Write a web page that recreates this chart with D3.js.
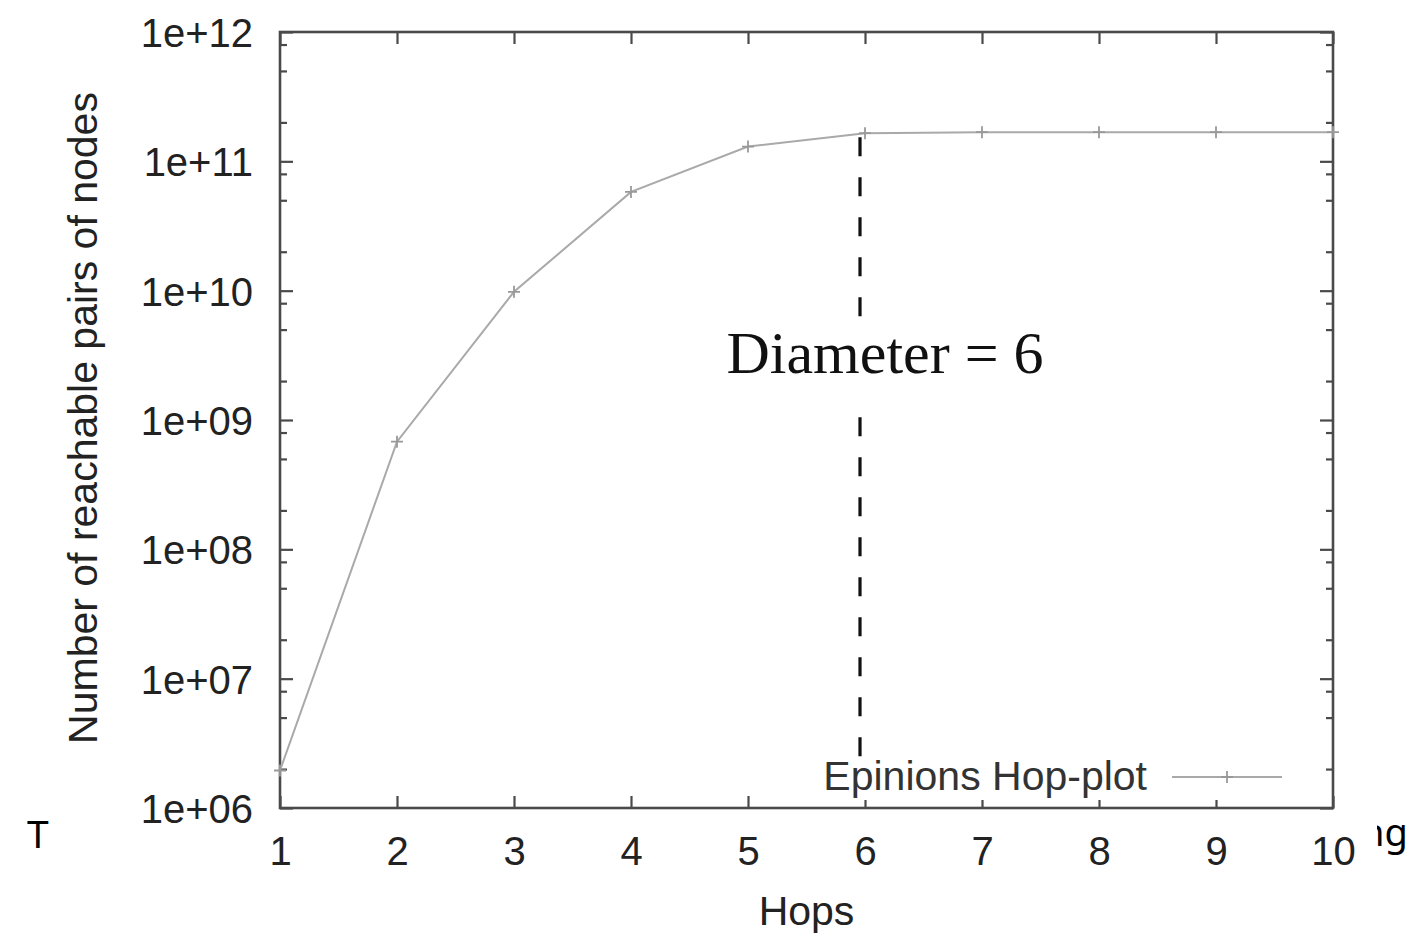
<!DOCTYPE html>
<html>
<head>
<meta charset="utf-8">
<script src="https://cdn.jsdelivr.net/npm/d3@7"></script>
<style>
  html, body { margin: 0; padding: 0; background: #fff; }
  svg { display: block; }
</style>
</head>
<body>
<svg id="chart" width="1411" height="935"></svg>
<script>
// ---- data ----
const hops = [1, 2, 3, 4, 5, 6, 7, 8, 9, 10];
const reachablePairs = [1.95e6, 6.8e8, 9.8e9, 5.8e10, 1.30e11, 1.65e11, 1.68e11, 1.68e11, 1.68e11, 1.68e11];
const xTickValues = [1, 2, 3, 4, 5, 6, 7, 8, 9, 10];
const yMajorTicks = [1e6, 1e7, 1e8, 1e9, 1e10, 1e11, 1e12];
const yTickLabels = ["1e+06", "1e+07", "1e+08", "1e+09", "1e+10", "1e+11", "1e+12"];
const yMinorFactors = [2, 5, 8];
const diameterHop = 6;
const seriesName = "Epinions Hop-plot";
const annotationText = "Diameter = 6";
const xTitle = "Hops";
const yTitle = "Number of reachable pairs of nodes";

// ---- layout ----
const W = 1411, H = 935;
const plot = { left: 280, right: 1333, top: 32, bottom: 808 };
const svg = d3.select("#chart");
const frameColor = "#4a4a4a";
const textColor = "#222";
const sans = "'Liberation Sans', Arial, sans-serif";

svg.append("rect").attr("x", 0).attr("y", 0).attr("width", W).attr("height", H).attr("fill", "#fff");

// surrounding document text fragments (partly covered by the figure)
svg.append("text").attr("x", 27).attr("y", 848)
  .attr("font-family", "'Noto Sans', sans-serif").attr("font-size", 39).attr("fill", "#000").text("T");
svg.append("text").attr("x", 1361).attr("y", 846)
  .attr("font-family", "'Noto Sans', sans-serif").attr("font-size", 38).attr("fill", "#000").text("ng");
svg.append("rect").attr("x", 56).attr("y", 0).attr("width", 1377 - 56).attr("height", H).attr("fill", "#fff");

const x = d3.scaleLinear().domain([1, 10]).range([plot.left, plot.right]);
const y = d3.scaleLog().domain([1e6, 1e12]).range([plot.bottom, plot.top]);

const yMinorTicks = [];
yMajorTicks.slice(0, -1).forEach(m => yMinorFactors.forEach(f => yMinorTicks.push(m * f)));

// ---- axes (ticks inward, mirrored) ----
function styleAxis(g) {
  g.select(".domain").remove();
  g.selectAll(".tick line").attr("stroke", frameColor).attr("stroke-width", 2.2);
  g.selectAll(".tick text").attr("fill", textColor).attr("font-family", sans).attr("font-size", 40);
}

// bottom
const gB = svg.append("g").attr("transform", `translate(0,${plot.bottom})`)
  .call(d3.axisBottom(x).tickValues(xTickValues).tickFormat(d3.format("d")).tickSizeInner(-12).tickSizeOuter(0).tickPadding(29));
styleAxis(gB);
// top (mirror, no labels)
const gT = svg.append("g").attr("transform", `translate(0,${plot.top})`)
  .call(d3.axisTop(x).tickValues(xTickValues).tickFormat("").tickSizeInner(-12).tickSizeOuter(0));
styleAxis(gT);
// left major
const gL = svg.append("g").attr("transform", `translate(${plot.left},0)`)
  .call(d3.axisLeft(y).tickValues(yMajorTicks).tickFormat((d, i) => yTickLabels[i]).tickSizeInner(-13).tickSizeOuter(0).tickPadding(27));
styleAxis(gL);
gL.selectAll(".tick text").attr("dy", "0.36em");
// left minor
const gLm = svg.append("g").attr("transform", `translate(${plot.left},0)`)
  .call(d3.axisLeft(y).tickValues(yMinorTicks).tickFormat("").tickSizeInner(-7).tickSizeOuter(0));
styleAxis(gLm);
// right major + minor
const gR = svg.append("g").attr("transform", `translate(${plot.right},0)`)
  .call(d3.axisRight(y).tickValues(yMajorTicks).tickFormat("").tickSizeInner(-13).tickSizeOuter(0));
styleAxis(gR);
const gRm = svg.append("g").attr("transform", `translate(${plot.right},0)`)
  .call(d3.axisRight(y).tickValues(yMinorTicks).tickFormat("").tickSizeInner(-7).tickSizeOuter(0));
styleAxis(gRm);

// frame
svg.append("rect").attr("x", plot.left).attr("y", plot.top)
  .attr("width", plot.right - plot.left).attr("height", plot.bottom - plot.top)
  .attr("fill", "none").attr("stroke", frameColor).attr("stroke-width", 2.6);

// ---- diameter dashed line (drawn slightly left of the tick, as in the original) ----
const dY = reachablePairs[hops.indexOf(diameterHop)];
const dX = x(diameterHop) - 5;
svg.append("line")
  .attr("x1", dX).attr("x2", dX)
  .attr("y1", y(dY) + 4).attr("y2", plot.bottom)
  .attr("stroke", "#111").attr("stroke-width", 3.2)
  .attr("stroke-dasharray", "19,21");

// annotation with white background
const annX = 885, annY = 373;
svg.append("rect").attr("x", 722).attr("y", 321).attr("width", 330).attr("height", 82).attr("fill", "#fff");
svg.append("text").attr("x", annX).attr("y", annY).attr("text-anchor", "middle")
  .attr("font-family", "'Liberation Serif', 'Times New Roman', serif").attr("font-size", 60)
  .attr("fill", "#111").text(annotationText);

// ---- series ----
const seriesColor = "#a9a9a9";
const data = hops.map((h, i) => ({ h, v: reachablePairs[i] }));
svg.append("path").datum(data)
  .attr("fill", "none").attr("stroke", seriesColor).attr("stroke-width", 2)
  .attr("d", d3.line().x(d => x(d.h)).y(d => y(d.v)));
const plusPath = "M-6,0H6M0,-6V6";
svg.selectAll(".pt").data(data).enter().append("path")
  .attr("class", "pt")
  .attr("transform", d => `translate(${x(d.h)},${y(d.v)})`)
  .attr("d", plusPath).attr("stroke", "#999").attr("stroke-width", 1.8).attr("fill", "none");

// ---- legend (opaque key box) ----
svg.append("rect").attr("x", 812).attr("y", 758).attr("width", 480).attr("height", 42).attr("fill", "#fff");
svg.append("text").attr("x", 1147).attr("y", 790).attr("text-anchor", "end")
  .attr("font-family", sans).attr("font-size", 41).attr("fill", "#333").text(seriesName);
svg.append("line").attr("x1", 1172).attr("x2", 1282).attr("y1", 777).attr("y2", 777)
  .attr("stroke", seriesColor).attr("stroke-width", 2);
svg.append("path").attr("transform", "translate(1227,777)").attr("d", plusPath)
  .attr("stroke", "#999").attr("stroke-width", 1.8);

// ---- axis titles ----
svg.append("text").attr("x", (plot.left + plot.right) / 2).attr("y", 925).attr("text-anchor", "middle")
  .attr("font-family", sans).attr("font-size", 41).attr("fill", textColor).text(xTitle);
svg.append("text").attr("transform", `translate(97,${(plot.top + plot.bottom) / 2 - 2}) rotate(-90)`)
  .attr("text-anchor", "middle")
  .attr("font-family", sans).attr("font-size", 41).attr("fill", textColor).text(yTitle);
</script>
</body>
</html>
